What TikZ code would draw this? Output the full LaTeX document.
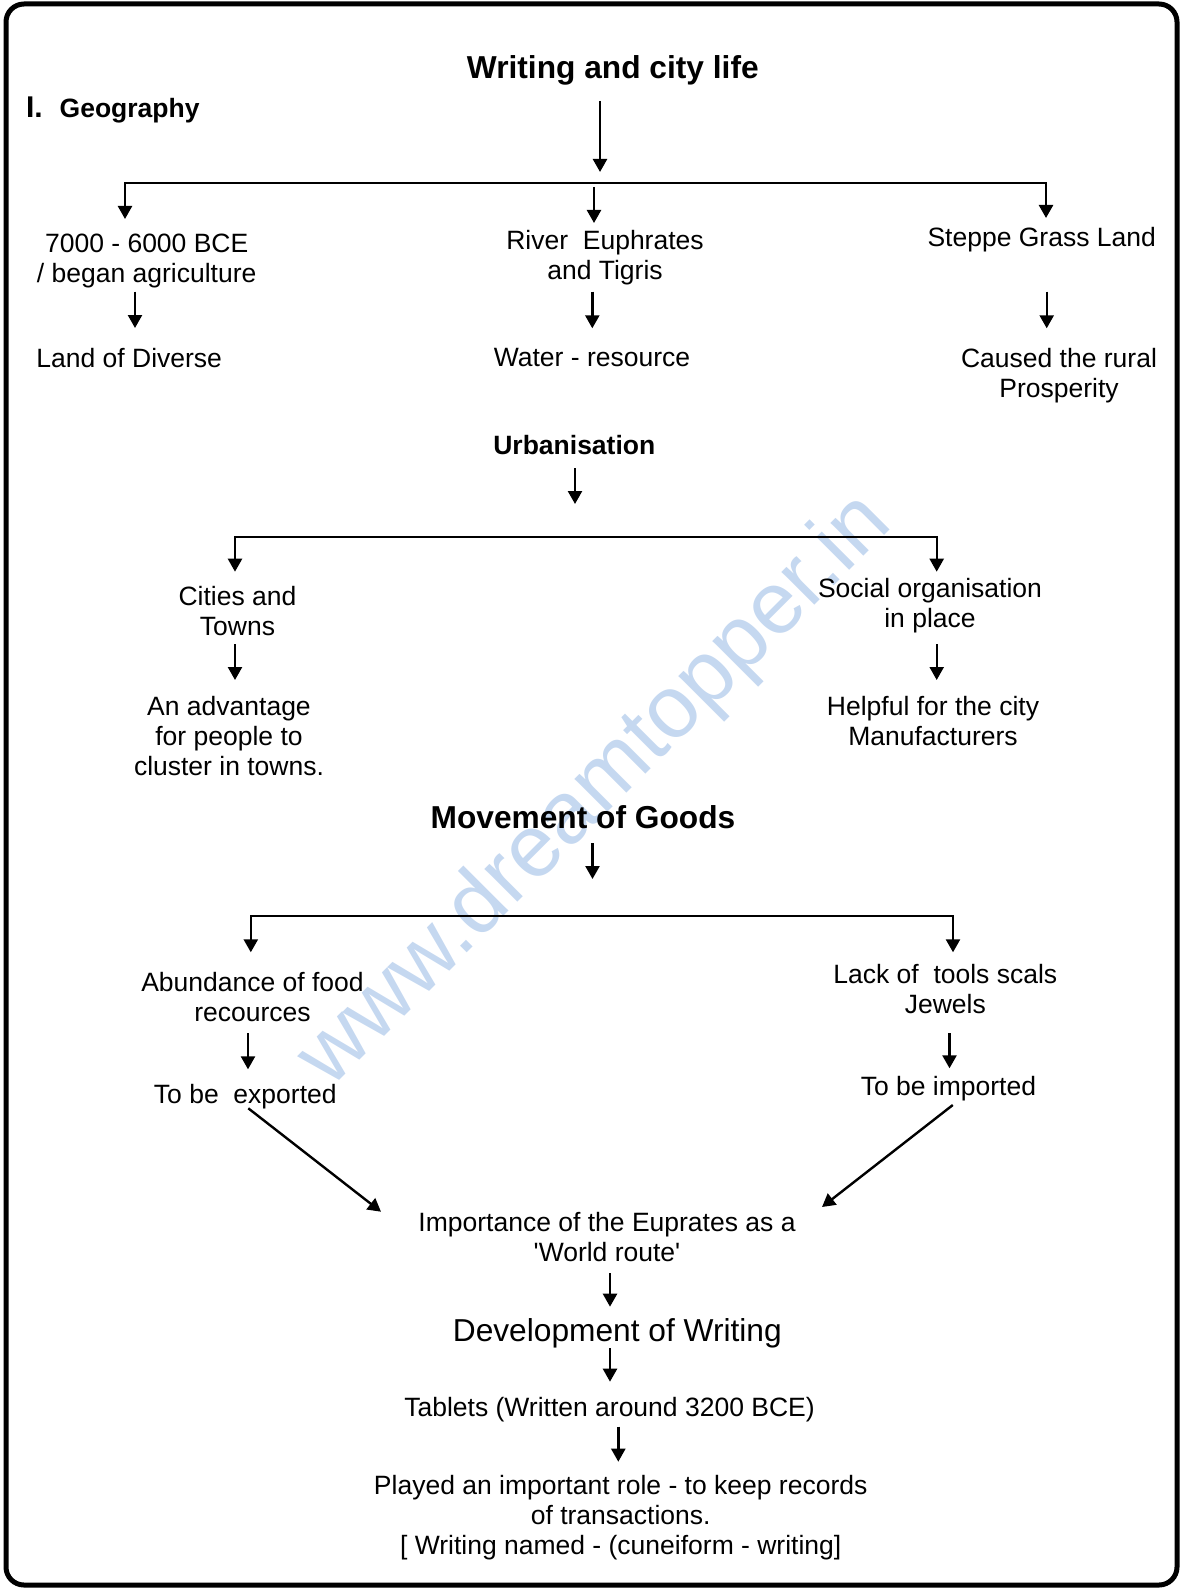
\documentclass[tikz,border=0pt]{standalone}
\usepackage{fontspec}
\setmainfont{Liberation Sans}
\usetikzlibrary{arrows.meta,calc}
\definecolor{wm}{RGB}{197,216,240}
\newcommand{\mlines}[1]{\begin{tabular}[t]{@{}c@{}}#1\end{tabular}}
\tikzset{
  txt/.style={anchor=base, inner sep=0pt, font=\fontsize{26.5}{30}\selectfont},
  txtb/.style={anchor=base, inner sep=0pt, font=\fontsize{26.5}{30}\selectfont\bfseries},
  big/.style={anchor=base, inner sep=0pt, font=\fontsize{31.7}{36}\selectfont},
  bigb/.style={anchor=base, inner sep=0pt, font=\fontsize{31.7}{36}\selectfont\bfseries},
  arr/.style={line width=2.4pt, -{Triangle[length=13pt,width=14pt]}},
  frame/.style={line width=5pt, rounded corners=18pt},
}
\begin{document}
\begin{tikzpicture}[x=1pt,y=-1pt]
\useasboundingbox (0,0) rectangle (1181,1589);
% watermark
\node[rotate=45, text=wm, inner sep=0pt, font=\fontsize{88}{92}\selectfont] (wmark) at (596,792) {www.dreamtopper.in};
% frame
\draw[frame] (6,4) rectangle (1177,1585);

% ---------- nodes ----------
\node[bigb] (title) at (612.8,79) {Writing and city life};
\node[anchor=base west, inner sep=0pt, font=\fontsize{26.5}{30}\selectfont\bfseries] (geo) at (25.8,118) {{\fontsize{30}{30}\selectfont I.}\hspace{17pt}Geography};

\node[txt] (n7000) at (146.7,252) {\mlines{7000 - 6000 BCE\\/ began agriculture}};
\node[txt] (river) at (605,250) {\mlines{River\ \ Euphrates\\and Tigris}};
\node[txt] (steppe) at (1041.7,246.7) {Steppe Grass Land};
\node[txt] (land) at (129.2,367) {Land of Diverse};
\node[txt] (water) at (592,366) {Water - resource};
\node[txt] (caused) at (1059,367.5) {\mlines{Caused the rural\\Prosperity}};

\node[txtb] (urban) at (574.3,454) {Urbanisation};
\node[txt] (cities) at (237.5,605) {\mlines{Cities and\\Towns}};
\node[txt] (social) at (930,597.5) {\mlines{Social organisation\\in place}};
\node[txt] (adv) at (229,715.5) {\mlines{An advantage\\for people to\\cluster in towns.}};
\node[txt] (helpful) at (933,715) {\mlines{Helpful for the city\\Manufacturers}};

\node[bigb] (move) at (583,828.3) {Movement of Goods};
\node[txt] (abund) at (252.5,991) {\mlines{Abundance of food\\recources}};
\node[txt] (lack) at (945.3,983.5) {\mlines{Lack of\ \ tools scals\\Jewels}};
\node[txt] (export) at (245.3,1103.5) {To be\ \ exported};
\node[txt] (import) at (948.4,1095) {To be imported};

\node[txt] (imp) at (607,1231) {\mlines{Importance of the Euprates as a\\\textquotesingle World route\textquotesingle}};
\node[big] (devel) at (617.3,1341) {Development of Writing};
\node[txt] (tablets) at (609.5,1416.5) {Tablets (Written around 3200 BCE)};
\node[txt] (played) at (620.7,1494.5) {\mlines{Played an important role - to keep records\\of transactions.\\{[} Writing named - (cuneiform - writing]}};

% ---------- coordinates ----------
\coordinate (t1tip) at (600,172);
\coordinate (hub1) at (600,183);
\coordinate (m1) at (594,187);
\coordinate (u1tip) at (575,504);
\coordinate (hub2) at (575,537);
\coordinate (mvtip) at (592.5,879);
\coordinate (hub3) at (592.5,916);

% ---------- connectors ----------
\draw[arr] ($(title.base)+(-12.8,22)$) -- (t1tip);
\draw[arr] (hub1) -| ($(n7000.base)+(-21.7,-33)$);
\draw[arr] (hub1) -| ($(steppe.base)+(4.3,-28.7)$);
\draw[arr] (m1) -- ($(river.base)+(-11,-27)$);

\draw[arr] ($(n7000.base)+(-11.7,39.7)$) -- ($(land.base)+(5.8,-39)$);
\draw[arr] ($(river.base)+(-12.7,41.7)$) -- ($(water.base)+(0.3,-37.7)$);
\draw[arr] ($(steppe.base)+(5,45)$) -- ($(caused.base)+(-12.3,-39.2)$);

\draw[arr] ($(urban.base)+(0.7,14)$) -- (u1tip);
\draw[arr] (hub2) -| ($(cities.base)+(-2.5,-33.3)$);
\draw[arr] (hub2) -| ($(social.base)+(6.7,-25.8)$);
\draw[arr] ($(cities.base)+(-2.5,39)$) -- ($(adv.base)+(6,-35.5)$);
\draw[arr] ($(social.base)+(6.7,46.5)$) -- ($(helpful.base)+(3.7,-35)$);

\draw[arr] ($(move.base)+(9.5,15)$) -- (mvtip);
\draw[arr] (hub3) -| ($(abund.base)+(-1.7,-38.7)$);
\draw[arr] (hub3) -| ($(lack.base)+(7.7,-31.2)$);
\draw[arr] ($(abund.base)+(-4.5,42.3)$) -- ($(export.base)+(2.7,-34.2)$);
\draw[arr] ($(lack.base)+(4.2,49.8)$) -- ($(import.base)+(1.1,-26.7)$);

\draw[arr] ($(export.base)+(3,4.8)$) -- ($(imp.base)+(-226,-19.3)$);
\draw[arr] ($(import.base)+(4.4,10)$) -- ($(imp.base)+(215,-24)$);
\draw[arr] ($(imp.base)+(3,42.3)$) -- ($(devel.base)+(-7.3,-34.3)$);
\draw[arr] ($(devel.base)+(-7.3,7.3)$) -- ($(tablets.base)+(0.5,-34.8)$);
\draw[arr] ($(tablets.base)+(8.8,10.2)$) -- ($(played.base)+(-2.4,-32.8)$);
\end{tikzpicture}
\end{document}
